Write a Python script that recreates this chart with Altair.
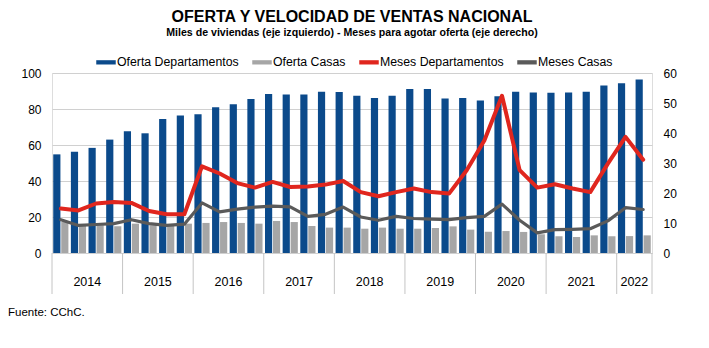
import altair as alt
import pandas as pd

periodos = [
    "2014-T1", "2014-T2", "2014-T3", "2014-T4",
    "2015-T1", "2015-T2", "2015-T3", "2015-T4",
    "2016-T1", "2016-T2", "2016-T3", "2016-T4",
    "2017-T1", "2017-T2", "2017-T3", "2017-T4",
    "2018-T1", "2018-T2", "2018-T3", "2018-T4",
    "2019-T1", "2019-T2", "2019-T3", "2019-T4",
    "2020-T1", "2020-T2", "2020-T3", "2020-T4",
    "2021-T1", "2021-T2", "2021-T3", "2021-T4",
    "2022-T1", "2022-T2",
]

# Miles de viviendas (eje izquierdo)
oferta_deptos = [
    54.8, 56.3, 58.4, 63.0,
    67.7, 66.5, 74.5, 76.4,
    77.1, 81.0, 82.7, 85.5,
    88.3, 88.1, 88.1, 89.6,
    89.4, 87.4, 86.1, 87.4,
    91.1, 91.1, 85.9, 86.1,
    84.7, 87.1, 89.6, 89.1,
    89.0, 89.1, 89.6, 93.1,
    94.3, 96.4,
]
oferta_casas = [
    17.2, 15.4, 15.4, 14.8,
    16.3, 15.4, 15.4, 16.3,
    16.7, 17.2, 16.7, 16.3,
    17.8, 17.2, 15.0, 14.1,
    14.1, 13.5, 14.1, 13.5,
    13.5, 13.9, 14.8, 13.0,
    11.8, 12.2, 11.7, 10.4,
    9.3, 8.9, 9.8, 9.3,
    9.4, 9.8,
]

# Meses para agotar oferta (eje derecho)
meses_deptos = [
    14.8, 14.2, 16.5, 17.0,
    16.7, 14.0, 12.9, 12.9,
    28.9, 26.5, 23.3, 21.8,
    23.7, 22.0, 22.2, 22.8,
    24.0, 20.3, 18.9, 20.3,
    21.5, 20.3, 19.8, 27.6,
    37.5, 52.4, 27.6, 21.8,
    22.9, 21.5, 20.3, 29.8,
    38.7, 31.1,
]
meses_casas = [
    11.1, 9.2, 9.5, 9.8,
    11.1, 9.8, 9.2, 9.6,
    16.7, 13.7, 14.6, 15.3,
    15.6, 15.4, 12.2, 12.9,
    15.3, 12.0, 10.9, 12.2,
    11.5, 11.3, 11.1, 11.8,
    12.2, 16.3, 10.9, 6.7,
    7.8, 7.9, 8.1, 10.7,
    15.1, 14.5,
]

anios = ["2014", "2015", "2016", "2017", "2018", "2019", "2020", "2021", "2022"]
anio_centro = ["2014-T3", "2015-T3", "2016-T3", "2017-T3", "2018-T3",
               "2019-T3", "2020-T3", "2021-T3", "2022-T2"]
anio_inicio = ["2014-T1", "2015-T1", "2016-T1", "2017-T1", "2018-T1",
               "2019-T1", "2020-T1", "2021-T1", "2022-T1"]
anio_fin = ["2022-T2"]

series = ["Oferta Departamentos", "Oferta Casas", "Meses Departamentos", "Meses Casas"]
colores = ["#0b4a8b", "#a6a6a6", "#e0261e", "#5a5a5a"]

n = len(periodos)
bars_df = pd.DataFrame({
    "periodo": periodos + periodos,
    "serie": [series[0]] * n + [series[1]] * n,
    "valor": oferta_deptos + oferta_casas,
})
lines_df = pd.DataFrame({
    "periodo": periodos + periodos,
    "serie": [series[2]] * n + [series[3]] * n,
    "valor": meses_deptos + meses_casas,
})
years_df = pd.DataFrame({"periodo": anio_centro, "anio": anios})
div_df = pd.DataFrame({"periodo": anio_inicio})
end_df = pd.DataFrame({"periodo": anio_fin})
src_df = pd.DataFrame({"t": ["Fuente: CChC."]})

W, H = 600, 180
FONT = "Liberation Sans"
PI = 0.14
xscale = alt.Scale(domain=periodos, paddingInner=PI, paddingOuter=PI / 2)
GAP = (PI / 2) * W / len(periodos)  # half of the gap between bands, in px

color = alt.Color(
    "serie:N",
    scale=alt.Scale(domain=series, range=colores),
    legend=alt.Legend(
        title=None, orient="none", direction="horizontal",
        legendX=44, legendY=-21,
        labelFont=FONT, labelFontSize=12.3, labelColor="#000000",
        symbolType="M-1,-0.22H1V0.22H-1Z", symbolSize=380,
        symbolStrokeWidth=0, labelOffset=1, columnPadding=13,
        symbolOpacity=1,
    ),
)

bars = alt.Chart(bars_df).mark_bar().encode(
    x=alt.X("periodo:N", scale=xscale, axis=None, sort=periodos),
    xOffset=alt.XOffset("serie:N", scale=alt.Scale(domain=series[:2], paddingInner=0.1)),
    y=alt.Y("valor:Q", scale=alt.Scale(domain=[0, 100]),
            axis=alt.Axis(values=[0, 20, 40, 60, 80, 100], title=None, grid=True,
                          domain=False, ticks=False, labelPadding=11,
                          labelFont=FONT, labelFontSize=12, labelColor="#000000",
                          gridColor="#d0d0d0", gridWidth=1)),
    color=color,
)

lines = alt.Chart(lines_df).mark_line(strokeJoin="round", strokeCap="round").encode(
    x=alt.X("periodo:N", scale=xscale, axis=None, sort=periodos),
    y=alt.Y("valor:Q", scale=alt.Scale(domain=[0, 60]),
            axis=alt.Axis(orient="right", values=[0, 10, 20, 30, 40, 50, 60], title=None,
                          grid=False, domain=False, ticks=False, labelPadding=11,
                          labelFont=FONT, labelFontSize=12, labelColor="#000000")),
    color=color,
    strokeWidth=alt.StrokeWidth("serie:N", scale=alt.Scale(domain=series[2:], range=[4, 3.2]),
                                legend=None),
)

dividers = alt.Chart(div_df).mark_rule(color="#c4c4c4", strokeWidth=1, xOffset=-GAP).encode(
    x=alt.X("periodo:N", scale=xscale, bandPosition=0),
    y=alt.value(H), y2=alt.value(H + 41),
)
end_div = alt.Chart(end_df).mark_rule(color="#c4c4c4", strokeWidth=1, xOffset=GAP).encode(
    x=alt.X("periodo:N", scale=xscale, bandPosition=1),
    y=alt.value(H), y2=alt.value(H + 41),
)
years = alt.Chart(years_df).mark_text(font=FONT, fontSize=12.5, color="#000000",
                                      baseline="middle", dx=-GAP).encode(
    x=alt.X("periodo:N", scale=xscale, bandPosition=0),
    y=alt.value(H + 29),
    text="anio:N",
)
source = alt.Chart(src_df).mark_text(font=FONT, fontSize=11.5, color="#000000",
                                     align="left", baseline="middle").encode(
    x=alt.value(-44), y=alt.value(H + 60), text="t:N",
)

chart = alt.layer(bars, lines, dividers, end_div, years, source).resolve_scale(
    y="independent"
).properties(
    width=W, height=H,
    autosize=alt.AutoSizeParams(type="none"),
    padding={"left": 52, "top": 73, "right": 57, "bottom": 95},
    title=alt.TitleParams(
        text="OFERTA Y VELOCIDAD DE VENTAS NACIONAL",
        subtitle="Miles de viviendas (eje izquierdo) - Meses para agotar oferta (eje derecho)",
        font=FONT, fontSize=16, fontWeight="bold", color="#000000",
        subtitleFont=FONT, subtitleFontSize=10.6, subtitleFontWeight="bold",
        subtitleColor="#000000", subtitlePadding=3,
        anchor="middle", offset=13,
    ),
).configure_view(stroke=None).configure(background="#ffffff")

chart.save("out.html", embed_options={"renderer": "svg", "actions": False})
